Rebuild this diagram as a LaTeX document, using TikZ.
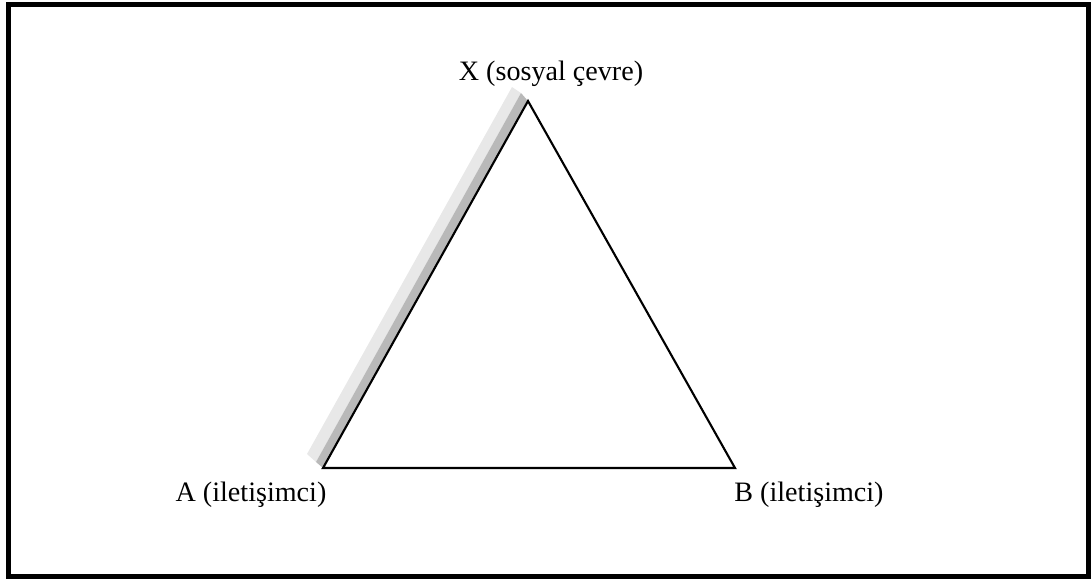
\documentclass[tikz,border=0pt]{standalone}
\usepackage{fontspec}
\setmainfont{Liberation Serif}
\usepackage{tikz}
\usetikzlibrary{positioning, calc}
\tikzset{
	vertexlabel/.style={font=\fontsize{16}{19}\selectfont, anchor=base, inner sep=0pt}
}
\tikzset{
	sideline/.style={line width=1.2pt, line join=miter}
}

\begin{document}
\begin{tikzpicture}[x=0.02cm, y=-0.02cm]
      \useasboundingbox (0,0) rectangle (1092,579);
      % outer frame
      \draw[line width=2.8pt] (8.5,4.5) rectangle (1088.5,576.5);
      \coordinate (A) at (323,468);
      \coordinate (B) at (735,468);
      \coordinate (X) at (528,101);
      % shadow of the A--X side
      \fill[gray!18] ($(A)+(-7,-6)$) -- ($(X)+(-7,-8)$) -- ($(X)+(-16,-14)$) -- ($(A)+(-16,-14)$) -- cycle;
      \fill[gray!55] (A) -- (X) -- ($(X)+(-7,-8)$) -- ($(A)+(-7,-6)$) -- cycle;
      \draw[sideline] (A) -- (B) -- (X) -- cycle;
      \node[vertexlabel] (labX) at (551,80) {X (sosyal çevre)};
      \node[vertexlabel] (labA) at (251,501) {A (iletişimci)};
      \node[vertexlabel] (labB) at (809,501) {B (iletişimci)};
    \end{tikzpicture}
\end{document}
